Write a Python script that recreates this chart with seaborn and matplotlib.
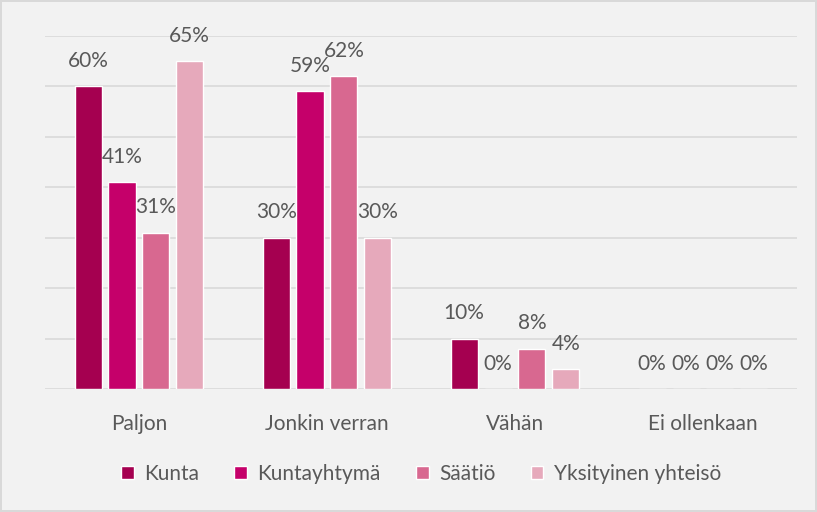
"""Grouped bar chart: Paljon / Jonkin verran / Vähän / Ei ollenkaan"""
import pandas as pd
import seaborn as sns
import matplotlib.pyplot as plt

categories = ["Paljon", "Jonkin verran", "Vähän", "Ei ollenkaan"]
series = ["Kunta", "Kuntayhtymä", "Säätiö", "Yksityinen yhteisö"]
kunta = [60, 30, 10, 0]
kuntayhtyma = [41, 59, 0, 0]
saatio = [31, 62, 8, 0]
yksityinen = [65, 30, 4, 0]
colors = ["#a50050", "#c5006a", "#d86890", "#e6a9bb"]

rows = []
for name, vals in zip(series, [kunta, kuntayhtyma, saatio, yksityinen]):
    for cat, v in zip(categories, vals):
        rows.append({"Luokka": cat, "Sarja": name, "Arvo": v})
df = pd.DataFrame(rows)

sns.set_style("white")
plt.rcParams["font.family"] = ["Lato", "DejaVu Sans"]
text_color = "#595959"
grid_color = "#d9d9d9"
fs = 15

fig = plt.figure(figsize=(8.17, 5.12), dpi=100, facecolor="#f2f2f2",
                 edgecolor=grid_color, linewidth=1.5)
ax = fig.add_axes([0.055, 0.2402, 0.9205, 0.6895])
ax.set_facecolor("#f2f2f2")

sns.barplot(data=df, x="Luokka", y="Arvo", hue="Sarja", order=categories,
            hue_order=series, palette=colors, width=0.72, gap=0.2,
            saturation=1, ax=ax, legend=True)

ax.set_ylim(0, 70)
ax.set_yticks(range(0, 71, 10))
ax.yaxis.grid(True, color=grid_color, linewidth=1.2)
ax.set_axisbelow(True)
ax.set_yticklabels([])
ax.tick_params(axis="y", length=0)
ax.tick_params(axis="x", length=0, labelsize=fs, labelcolor=text_color, pad=18)
for s in ax.spines.values():
    s.set_visible(False)
ax.set_xlabel("")
ax.set_ylabel("")

for cont in ax.containers:
    ax.bar_label(cont, fmt="%d%%", padding=11, fontsize=fs, color=text_color,
                 clip_on=False)

leg = ax.legend(loc="center", bbox_to_anchor=(0.5, -0.24), ncol=4,
                frameon=False, fontsize=fs, handlelength=0.6, handleheight=0.6,
                handletextpad=0.5, columnspacing=1.7)
for t in leg.get_texts():
    t.set_color(text_color)

fig.savefig("out.png", dpi=100, facecolor=fig.get_facecolor(),
            edgecolor=fig.get_edgecolor())
